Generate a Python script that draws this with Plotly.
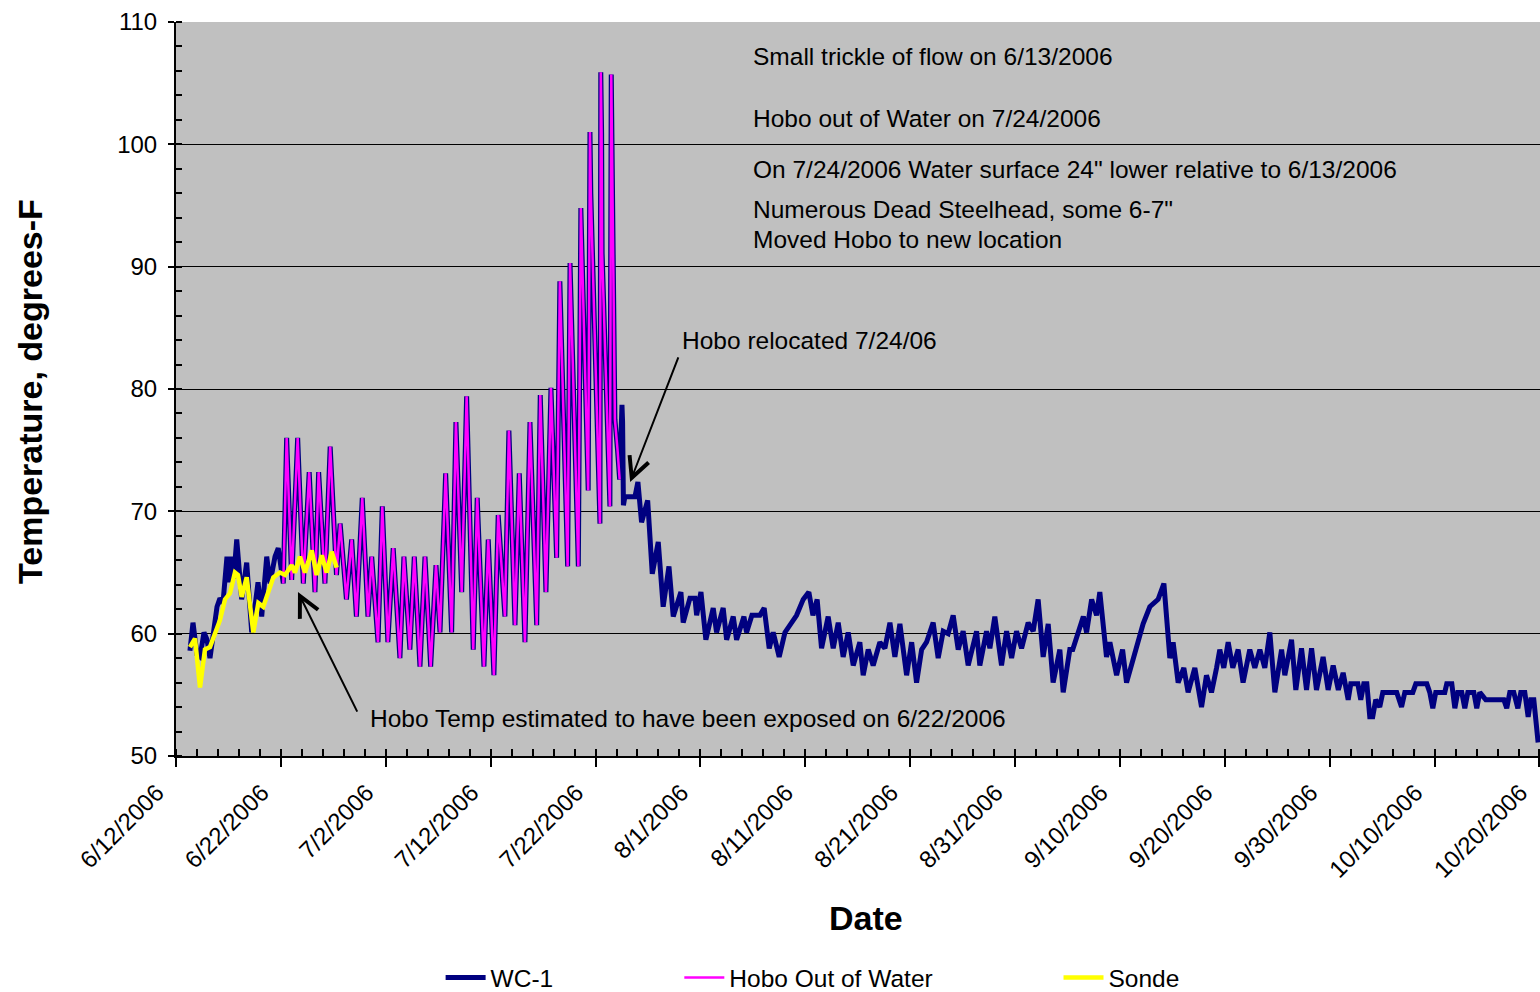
import pandas as pd
import plotly.graph_objects as go

# ---------------- data (days after 6/12/2006 00:00, temperature degF) ----------------
wc1_days = [
    1.33, 1.62, 2.0, 2.29, 2.67, 2.96, 3.24, 3.62, 3.91, 4.19, 4.48, 4.86, 5.05, 5.25, 5.5,
    5.79, 6.26, 6.74, 7.22, 7.82, 8.17, 8.65, 8.96, 9.44, 9.75, 10.23,
    10.55, 11.03, 11.6, 12.14, 12.7, 13.25, 13.6, 14.2, 14.7, 15.3, 15.65, 16.25, 16.75,
    17.2, 17.76, 18.3, 18.66, 19.26, 19.67, 20.2, 20.71, 21.35, 21.73, 22.3, 22.72,
    23.26, 23.74, 24.28, 24.79, 25.17, 25.71, 26.28, 26.69, 27.24, 27.71, 28.34, 28.72,
    29.36, 29.77, 30.31, 30.72, 31.36, 31.74, 32.32, 32.73, 33.27, 33.75, 34.39, 34.73,
    35.27, 35.75, 36.29, 36.6, 37.34, 37.57, 38.36, 38.6, 39.3, 39.47, 39.55, 40.42,
    40.5, 40.58, 40.63, 41.37, 41.5, 41.62, 41.7, 41.85, 42.1, 42.3,
    42.52, 42.58, 42.66, 42.8, 43.76, 44.04, 44.39, 44.97, 45.41, 45.98, 46.45, 47.0,
    47.41, 48.14, 48.36, 49.0, 49.48, 49.64, 50.05, 50.52, 51.22, 51.54, 52.17, 52.5,
    53.13, 53.45, 54.15, 54.4, 54.91, 55.67, 56.08, 56.56, 56.94, 57.51, 58.06, 58.53,
    59.17, 59.8, 60.34, 60.73, 61.13, 61.55, 62.18, 62.66, 63.14, 63.61, 64.09, 64.57,
    65.2, 65.52, 66.0, 66.47, 67.11, 67.59, 68.07, 68.54, 69.02, 69.66, 70.14, 70.61,
    71.09, 71.56, 72.19, 72.67, 73.15, 73.62, 74.1, 74.58, 75.05, 75.53, 76.01, 76.33,
    76.64, 77.28, 77.6, 78.07, 78.71, 79.19, 79.67, 80.14, 80.62, 81.25, 81.73, 82.2,
    82.68, 83.16, 83.63, 84.27, 84.59, 85.22, 85.5, 86.03, 86.51, 86.82, 87.3, 87.77,
    88.08, 88.72, 89.04, 89.68, 90.25, 90.63, 91.26, 91.74, 92.21, 92.85, 93.64, 94.19,
    94.76, 95.07, 95.55, 96.09, 96.5, 97.14, 97.78, 98.25, 98.73, 99.21, 99.52, 99.9,
    100.32, 100.76, 101.27, 101.74, 102.38, 102.86, 103.34, 103.81, 104.29, 104.77,
    105.41, 105.72, 106.36, 106.77, 107.31, 107.79, 108.27, 108.74, 109.37, 109.85,
    110.33, 110.82, 111.28, 111.76, 112.01, 112.68, 112.96, 113.25, 113.54, 113.82,
    114.1, 114.39, 114.77, 115.06, 116.39, 116.85, 117.16, 117.92, 118.21, 119.26,
    119.54, 119.83, 120.11, 120.97, 121.16, 121.64, 121.93, 122.21, 122.59, 122.88,
    123.17, 123.74, 124.02, 124.31, 124.88, 126.6, 126.88, 127.17, 127.55, 127.94,
    128.22, 128.6, 128.92, 129.17, 129.46, 129.87,
]
wc1_temp = [
    58.6, 60.9, 58.3, 58.1, 60.1, 59.5, 58.0, 60.5, 62.2, 62.9, 62.5, 66.3, 64.2, 66.3, 64.5,
    67.7, 62.8, 65.8, 60.1, 64.2, 61.4, 66.3, 64.1, 66.3, 67.0, 64.1,
    76.0, 64.4, 76.0, 64.1, 73.2, 63.4, 73.2, 64.1, 75.3, 64.8, 69.0, 62.8, 67.7,
    61.4, 71.1, 61.4, 66.3, 59.3, 70.4, 59.3, 67.0, 58.0, 66.3, 58.7, 66.3,
    57.3, 66.3, 57.3, 65.6, 60.1, 73.1, 60.1, 77.3, 63.4, 79.4, 58.7, 71.1,
    57.3, 67.7, 56.6, 69.7, 61.4, 76.6, 60.7, 73.1, 59.3, 77.3, 60.7, 79.5,
    63.4, 80.1, 66.2, 88.8, 65.5, 90.3, 65.5, 94.8, 71.7, 101.0, 96.0, 69.0,
    105.9, 100.9, 91.1, 70.4, 105.7, 94.0, 88.0, 77.5, 75.0, 72.6,
    78.7, 77.3, 70.5, 71.2, 71.2, 72.4, 69.1, 70.9, 64.9, 67.5, 62.2, 65.5,
    61.4, 63.4, 60.9, 62.9, 62.9, 61.5, 63.4, 59.5, 62.1, 60.1, 62.1, 59.5,
    61.4, 59.5, 61.4, 60.1, 61.5, 61.5, 62.1, 58.8, 60.1, 58.1, 60.1, 60.7,
    61.5, 62.8, 63.4, 61.5, 62.8, 58.8, 61.4, 58.8, 60.9, 58.1, 60.1, 57.4,
    59.3, 56.6, 58.7, 57.4, 59.3, 58.8, 60.9, 58.1, 60.8, 56.6, 59.3, 56.0,
    58.7, 59.3, 60.9, 58.0, 60.2, 60.0, 61.5, 58.7, 60.2, 57.4, 59.3, 60.2,
    57.4, 60.2, 58.8, 61.4, 57.4, 60.2, 58.0, 60.2, 58.8, 60.9, 60.2, 62.8,
    58.1, 60.8, 56.0, 58.7, 55.2, 58.7, 58.7, 60.1, 61.4, 60.1, 62.8, 61.5,
    63.4, 58.1, 59.3, 56.6, 58.7, 56.0, 58.0, 59.3, 60.8, 62.2, 62.8, 64.1,
    58.0, 59.3, 56.0, 57.2, 55.2, 57.2, 54.0, 56.6, 55.2, 57.2, 58.7, 57.2,
    59.3, 57.2, 58.7, 56.0, 58.7, 57.2, 58.7, 57.2, 60.1, 55.2,
    58.7, 56.6, 59.5, 55.4, 58.8, 55.4, 58.8, 55.4, 58.1, 55.4,
    57.4, 55.4, 56.8, 54.6, 55.9, 55.9, 54.6, 55.9, 55.9, 53.2,
    53.2, 54.6, 54.0, 55.2, 55.2, 54.0, 55.2, 55.2, 55.9, 55.9,
    55.2, 53.9, 55.2, 55.2, 55.9, 55.9, 53.9, 55.2, 55.2, 53.9,
    55.2, 55.2, 53.9, 55.2, 54.6, 54.6, 53.9, 55.2, 55.2, 53.9,
    55.2, 55.2, 53.2, 54.6, 54.6, 51.1,
]

# Hobo out of water: the part of the WC-1 record between these days
hobo_start_day = 10.23
hobo_end_day = 42.3

sonde_days = [1.33, 1.81, 2.29, 2.76, 3.24, 3.72, 4.19, 4.67, 5.15, 5.62, 5.91, 6.26, 6.74,
              7.37, 7.85, 8.32, 8.8, 9.28, 9.91, 10.39, 11.03, 11.34, 11.82, 12.3, 12.94,
              13.41, 13.89, 14.37, 14.84, 15.32]
sonde_temp = [58.9, 59.6, 55.6, 58.7, 58.9, 60.1, 61.1, 62.8, 63.3, 65.0, 64.8, 63.0, 64.6,
              60.1, 62.5, 62.2, 63.3, 64.6, 65.0, 64.8, 65.6, 65.0, 66.3, 65.0, 66.8,
              64.8, 66.4, 65.0, 66.7, 65.4]

start_date = "2006-06-12"
end_day = 130.05

notes = [
    ("Small trickle of flow on 6/13/2006", 54.81, 107.2),
    ("Hobo out of Water on 7/24/2006", 54.81, 102.15),
    ("On 7/24/2006 Water surface 24\" lower relative to 6/13/2006", 54.81, 97.95),
    ("Numerous Dead Steelhead, some 6-7\"", 54.81, 94.7),
    ("Moved Hobo to new location", 54.81, 92.25),
    ("Hobo relocated 7/24/06", 48.05, 84.0),
    ("Hobo Temp estimated to have been exposed on 6/22/2006", 18.3, 53.1),
]
arrows = [  # (tip_day, tip_temp, tail_day, tail_temp)
    (43.3, 72.4, 47.95, 82.7),
    (11.63, 63.4, 17.35, 53.5),
]

# ---------------- build ----------------
base = pd.Timestamp(start_date)


def to_date(d):
    return base + pd.to_timedelta(d, unit="D")


wc1_x = [to_date(d) for d in wc1_days]
hobo_x = [to_date(d) for d in wc1_days if hobo_start_day <= d <= hobo_end_day]
hobo_y = [t for d, t in zip(wc1_days, wc1_temp) if hobo_start_day <= d <= hobo_end_day]
sonde_x = [to_date(d) for d in sonde_days]

FONT = "Arial, Liberation Sans, sans-serif"

fig = go.Figure()
fig.add_trace(go.Scatter(x=wc1_x, y=wc1_temp, mode="lines", name="WC-1",
                         line=dict(color="#000080", width=5), legend="legend"))
fig.add_trace(go.Scatter(x=hobo_x, y=hobo_y, mode="lines", name="Hobo Out of Water",
                         line=dict(color="#FF00FF", width=2.5), legend="legend2"))
fig.add_trace(go.Scatter(x=sonde_x, y=sonde_temp, mode="lines", name="Sonde",
                         line=dict(color="#FFFF00", width=4.5), legend="legend3"))

annotations = []
for text, d, t in notes:
    annotations.append(dict(x=to_date(d), y=t, xref="x", yref="y", text=text,
                            showarrow=False, xanchor="left", yanchor="middle",
                            font=dict(size=24.5, color="black", family=FONT)))
for tip_d, tip_t, tail_d, tail_t in arrows:
    annotations.append(dict(x=to_date(tip_d), y=tip_t, ax=to_date(tail_d), ay=tail_t,
                            xref="x", yref="y", axref="x", ayref="y", text="",
                            showarrow=True, arrowhead=5, arrowsize=2.0, arrowwidth=2,
                            arrowcolor="black"))
annotations.append(dict(x=-0.107, y=0.496, xref="paper", yref="paper",
                        text="<b>Temperature, degrees-F</b>", textangle=-90,
                        showarrow=False, xanchor="center", yanchor="middle",
                        font=dict(size=34, color="black", family=FONT)))
annotations.append(dict(x=0.506, y=-0.221, xref="paper", yref="paper",
                        text="<b>Date</b>", showarrow=False,
                        xanchor="center", yanchor="middle",
                        font=dict(size=34, color="black", family=FONT)))

legend_common = dict(orientation="h", yanchor="middle", xanchor="left", y=-0.302,
                     bgcolor="rgba(0,0,0,0)", font=dict(size=24.5, color="black", family=FONT),
                     itemwidth=40)

fig.update_layout(
    width=1540, height=992,
    margin=dict(l=176, r=0, t=22, b=236, autoexpand=False),
    paper_bgcolor="white", plot_bgcolor="#C0C0C0",
    font=dict(family=FONT, size=24, color="black"),
    showlegend=True,
    legend=dict(x=0.194, **legend_common),
    legend2=dict(x=0.369, **legend_common),
    legend3=dict(x=0.647, **legend_common),
    annotations=annotations,
    xaxis=dict(
        type="date", range=[base, to_date(end_day)], automargin=False,
        tick0=start_date, dtick=10 * 86400000, tickformat="%-m/%-d/%Y",
        tickangle=-45, ticks="outside", ticklen=9, tickwidth=2, tickcolor="black",
        ticklabeloverflow="allow", ticklabelshift=-19, ticklabelstandoff=2,
        showline=True, linecolor="black", linewidth=2, showgrid=False, zeroline=False,
        tickfont=dict(size=24, color="black", family=FONT),
        minor=dict(dtick=2 * 86400000, tick0=start_date, ticks="inside", ticklen=7,
                   tickwidth=2, tickcolor="black", showgrid=False),
    ),
    yaxis=dict(
        range=[50, 110], dtick=10, tick0=50, ticks="outside", ticklen=6, tickwidth=2,
        automargin=False, ticklabelstandoff=6, ticklabeloverflow="allow",
        tickcolor="black", showline=True, linecolor="black", linewidth=2,
        showgrid=True, gridcolor="black", gridwidth=1, zeroline=False,
        tickfont=dict(size=24, color="black", family=FONT),
        minor=dict(dtick=2, ticks="inside", ticklen=6, tickwidth=2, tickcolor="black",
                   showgrid=False),
    ),
)

fig.write_html("out.html", config={"displayModeBar": False},
               post_script="document.body.style.margin='0px';document.body.style.overflow='hidden';")
